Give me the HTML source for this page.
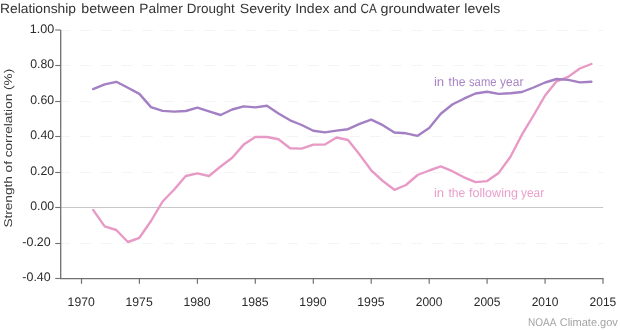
<!DOCTYPE html>
<html><head><meta charset="utf-8"><style>
html,body{margin:0;padding:0;background:#fff;width:620px;height:330px;overflow:hidden}
svg{display:block;will-change:transform;text-rendering:geometricPrecision}
</style></head><body>
<svg width="620" height="330" viewBox="0 0 620 330" font-family='"Liberation Sans", sans-serif'>
<line x1="59.3" y1="30.5" x2="603.2" y2="30.5" stroke="#f4f4f4" stroke-width="1" stroke-dasharray="10.8 9.92"/>
<line x1="59.3" y1="65.5" x2="603.2" y2="65.5" stroke="#f4f4f4" stroke-width="1" stroke-dasharray="10.8 9.92"/>
<line x1="59.3" y1="101.5" x2="603.2" y2="101.5" stroke="#f4f4f4" stroke-width="1" stroke-dasharray="10.8 9.92"/>
<line x1="59.3" y1="136.5" x2="603.2" y2="136.5" stroke="#f4f4f4" stroke-width="1" stroke-dasharray="10.8 9.92"/>
<line x1="59.3" y1="172.5" x2="603.2" y2="172.5" stroke="#f4f4f4" stroke-width="1" stroke-dasharray="10.8 9.92"/>
<line x1="60.7" y1="207.5" x2="603.2" y2="207.5" stroke="#c8c8c8" stroke-width="1"/>
<line x1="59.3" y1="243.5" x2="603.2" y2="243.5" stroke="#f4f4f4" stroke-width="1" stroke-dasharray="10.8 9.92"/>
<path d="M60.7,30.0 V278.6 H603.5" fill="none" stroke="#707070" stroke-width="1.3"/>
<line x1="55.2" y1="30.0" x2="60.7" y2="30.0" stroke="#707070" stroke-width="1.1"/>
<line x1="55.2" y1="65.5" x2="60.7" y2="65.5" stroke="#707070" stroke-width="1.1"/>
<line x1="55.2" y1="101.5" x2="60.7" y2="101.5" stroke="#707070" stroke-width="1.1"/>
<line x1="55.2" y1="136.5" x2="60.7" y2="136.5" stroke="#707070" stroke-width="1.1"/>
<line x1="55.2" y1="172.5" x2="60.7" y2="172.5" stroke="#707070" stroke-width="1.1"/>
<line x1="55.2" y1="207.5" x2="60.7" y2="207.5" stroke="#707070" stroke-width="1.1"/>
<line x1="55.2" y1="243.5" x2="60.7" y2="243.5" stroke="#707070" stroke-width="1.1"/>
<line x1="55.2" y1="278.5" x2="60.7" y2="278.5" stroke="#707070" stroke-width="1.1"/>
<line x1="81.5" y1="278.6" x2="81.5" y2="283.8" stroke="#707070" stroke-width="1.2"/>
<line x1="139.4" y1="278.6" x2="139.4" y2="283.8" stroke="#707070" stroke-width="1.2"/>
<line x1="197.4" y1="278.6" x2="197.4" y2="283.8" stroke="#707070" stroke-width="1.2"/>
<line x1="255.3" y1="278.6" x2="255.3" y2="283.8" stroke="#707070" stroke-width="1.2"/>
<line x1="313.3" y1="278.6" x2="313.3" y2="283.8" stroke="#707070" stroke-width="1.2"/>
<line x1="371.2" y1="278.6" x2="371.2" y2="283.8" stroke="#707070" stroke-width="1.2"/>
<line x1="429.2" y1="278.6" x2="429.2" y2="283.8" stroke="#707070" stroke-width="1.2"/>
<line x1="487.1" y1="278.6" x2="487.1" y2="283.8" stroke="#707070" stroke-width="1.2"/>
<line x1="545.1" y1="278.6" x2="545.1" y2="283.8" stroke="#707070" stroke-width="1.2"/>
<line x1="603.0" y1="278.6" x2="603.0" y2="283.8" stroke="#707070" stroke-width="1.2"/>
<text x="29.72" y="32.95" font-size="12.5" fill="#2a2a2a" textLength="24.48" lengthAdjust="spacingAndGlyphs">1.00</text>
<text x="30.25" y="68.45" font-size="12.5" fill="#2a2a2a" textLength="23.94" lengthAdjust="spacingAndGlyphs">0.80</text>
<text x="30.25" y="104.45" font-size="12.5" fill="#2a2a2a" textLength="23.94" lengthAdjust="spacingAndGlyphs">0.60</text>
<text x="30.25" y="139.45" font-size="12.5" fill="#2a2a2a" textLength="23.94" lengthAdjust="spacingAndGlyphs">0.40</text>
<text x="30.25" y="175.45" font-size="12.5" fill="#2a2a2a" textLength="23.94" lengthAdjust="spacingAndGlyphs">0.20</text>
<text x="30.25" y="210.45" font-size="12.5" fill="#2a2a2a" textLength="23.94" lengthAdjust="spacingAndGlyphs">0.00</text>
<text x="22.34" y="246.45" font-size="12.5" fill="#2a2a2a" textLength="28.4" lengthAdjust="spacingAndGlyphs">-0.20</text>
<text x="22.34" y="281.45" font-size="12.5" fill="#2a2a2a" textLength="28.4" lengthAdjust="spacingAndGlyphs">-0.40</text>
<text x="67.59" y="305.9" font-size="12.4" fill="#2a2a2a" textLength="27.22" lengthAdjust="spacingAndGlyphs">1970</text>
<text x="125.53" y="305.9" font-size="12.4" fill="#2a2a2a" textLength="27.22" lengthAdjust="spacingAndGlyphs">1975</text>
<text x="183.48" y="305.9" font-size="12.4" fill="#2a2a2a" textLength="27.22" lengthAdjust="spacingAndGlyphs">1980</text>
<text x="241.42" y="305.9" font-size="12.4" fill="#2a2a2a" textLength="27.22" lengthAdjust="spacingAndGlyphs">1985</text>
<text x="299.37" y="305.9" font-size="12.4" fill="#2a2a2a" textLength="27.22" lengthAdjust="spacingAndGlyphs">1990</text>
<text x="357.31" y="305.9" font-size="12.4" fill="#2a2a2a" textLength="27.22" lengthAdjust="spacingAndGlyphs">1995</text>
<text x="415.77" y="305.9" font-size="12.4" fill="#2a2a2a" textLength="26.7" lengthAdjust="spacingAndGlyphs">2000</text>
<text x="473.72" y="305.9" font-size="12.4" fill="#2a2a2a" textLength="26.7" lengthAdjust="spacingAndGlyphs">2005</text>
<text x="531.66" y="305.9" font-size="12.4" fill="#2a2a2a" textLength="26.7" lengthAdjust="spacingAndGlyphs">2010</text>
<text x="589.61" y="305.9" font-size="12.4" fill="#2a2a2a" textLength="26.7" lengthAdjust="spacingAndGlyphs">2015</text>
<text x="-0.03" y="12.5" font-size="13.4" fill="#333" textLength="76.0" lengthAdjust="spacingAndGlyphs">Relationship</text>
<text x="81.3" y="12.5" font-size="13.4" fill="#333" textLength="53.74" lengthAdjust="spacingAndGlyphs">between</text>
<text x="139.38" y="12.5" font-size="13.4" fill="#333" textLength="43.4" lengthAdjust="spacingAndGlyphs">Palmer</text>
<text x="186.89" y="12.5" font-size="13.4" fill="#333" textLength="47.95" lengthAdjust="spacingAndGlyphs">Drought</text>
<text x="239.7" y="12.5" font-size="13.4" fill="#333" textLength="51.43" lengthAdjust="spacingAndGlyphs">Severity</text>
<text x="295.19" y="12.5" font-size="13.4" fill="#333" textLength="34.29" lengthAdjust="spacingAndGlyphs">Index</text>
<text x="333.48" y="12.5" font-size="13.4" fill="#333" textLength="23.19" lengthAdjust="spacingAndGlyphs">and</text>
<text x="360.45" y="12.5" font-size="13.4" fill="#333" textLength="16.25" lengthAdjust="spacingAndGlyphs">CA</text>
<text x="380.47" y="12.5" font-size="13.4" fill="#333" textLength="79.55" lengthAdjust="spacingAndGlyphs">groundwater</text>
<text x="464.25" y="12.5" font-size="13.4" fill="#333" textLength="35.98" lengthAdjust="spacingAndGlyphs">levels</text>
<text transform="translate(12.3,148.2) rotate(-90)" text-anchor="middle" font-size="11.2" fill="#3c3c3c" textLength="158.8" lengthAdjust="spacingAndGlyphs">Strength of correlation (%)</text>
<polyline points="93.1,209.9 104.7,226.4 116.3,230.0 127.9,242.0 139.4,237.8 151.0,221.0 162.6,201.5 174.2,189.5 185.8,176.0 197.4,173.3 209.0,176.0 220.6,166.5 232.2,157.8 243.7,144.6 255.3,136.9 266.9,137.0 278.5,139.3 290.1,148.3 301.7,148.6 313.3,144.6 324.9,144.6 336.5,137.5 348.0,140.0 359.6,154.6 371.2,170.3 382.8,181.0 394.4,189.8 406.0,185.0 417.6,175.0 429.2,170.5 440.8,166.4 452.3,171.2 463.9,177.3 475.5,182.1 487.1,181.1 498.7,172.9 510.3,157.0 521.9,134.7 533.5,115.5 545.1,95.5 556.6,81.3 568.2,76.9 579.8,68.5 591.4,64.0" fill="none" stroke="#e89ac6" stroke-width="2.4" stroke-linejoin="round" stroke-linecap="round"/>
<polyline points="93.1,89.1 104.7,84.4 116.3,81.8 127.9,87.8 139.4,93.9 151.0,107.1 162.6,110.9 174.2,111.6 185.8,111.0 197.4,107.6 209.0,111.4 220.6,115.0 232.2,109.5 243.7,106.4 255.3,107.4 266.9,105.8 278.5,113.5 290.1,120.3 301.7,125.0 313.3,130.8 324.9,132.4 336.5,130.6 348.0,129.2 359.6,123.9 371.2,119.6 382.8,125.2 394.4,132.5 406.0,133.3 417.6,135.8 429.2,128.0 440.8,113.7 452.3,104.5 463.9,98.7 475.5,93.5 487.1,91.7 498.7,93.9 510.3,93.2 521.9,92.0 533.5,87.5 545.1,82.5 556.6,79.0 568.2,79.9 579.8,82.4 591.4,81.8" fill="none" stroke="#a37fc3" stroke-width="2.4" stroke-linejoin="round" stroke-linecap="round"/>
<text x="433.9" y="85.9" font-size="12.6" fill="#a884c4" textLength="10.3" lengthAdjust="spacingAndGlyphs">in</text>
<text x="448.5" y="85.9" font-size="12.6" fill="#a884c4" textLength="16.9" lengthAdjust="spacingAndGlyphs">the</text>
<text x="469.0" y="85.9" font-size="12.6" fill="#a884c4" textLength="27.51" lengthAdjust="spacingAndGlyphs">same</text>
<text x="500.1" y="85.9" font-size="12.6" fill="#a884c4" textLength="23.27" lengthAdjust="spacingAndGlyphs">year</text>
<text x="433.9" y="196.6" font-size="12.6" fill="#e8a0cc" textLength="10.2" lengthAdjust="spacingAndGlyphs">in</text>
<text x="448.4" y="196.6" font-size="12.6" fill="#e8a0cc" textLength="16.9" lengthAdjust="spacingAndGlyphs">the</text>
<text x="469.0" y="196.6" font-size="12.6" fill="#e8a0cc" textLength="48.91" lengthAdjust="spacingAndGlyphs">following</text>
<text x="521.1" y="196.6" font-size="12.6" fill="#e8a0cc" textLength="23.07" lengthAdjust="spacingAndGlyphs">year</text>
<text x="528.07" y="325.8" font-size="11.2" fill="#a3a3a3" textLength="28.31" lengthAdjust="spacingAndGlyphs">NOAA</text>
<text x="559.7" y="325.8" font-size="11.2" fill="#a3a3a3" textLength="58.15" lengthAdjust="spacingAndGlyphs">Climate.gov</text>
</svg>
</body></html>
